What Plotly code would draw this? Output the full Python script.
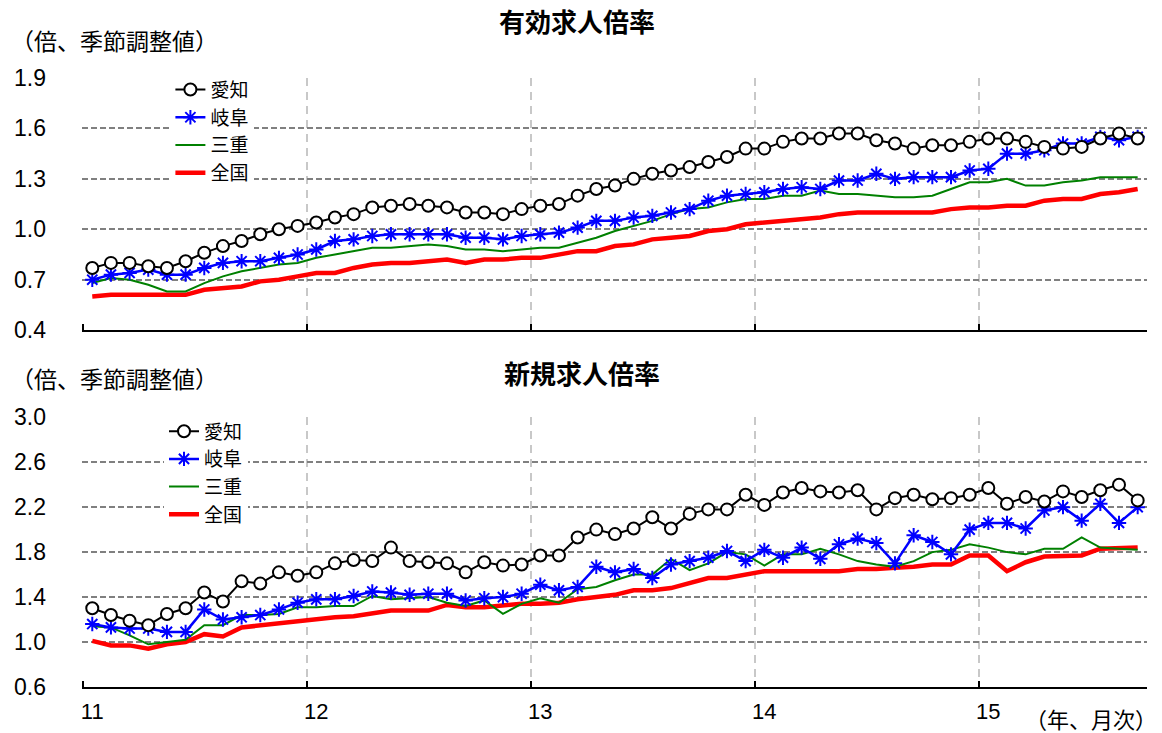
import plotly.graph_objects as go

# Months: Jan 2011 .. Sep 2015 (57 monthly points)
month_index = list(range(57))
year_tick_pos = [0, 12, 24, 36, 48]
year_tick_text = ["11", "12", "13", "14", "15"]
year_boundaries = [-0.5, 11.5, 23.5, 35.5, 47.5]

series_names = ["愛知", "岐阜", "三重", "全国"]

# 有効求人倍率 (top panel)
yuko_aichi = [0.77, 0.80, 0.80, 0.78, 0.77, 0.81, 0.86, 0.90, 0.93, 0.97, 1.00, 1.02,
              1.04, 1.07, 1.09, 1.13, 1.14, 1.15, 1.14, 1.13, 1.10, 1.10, 1.09, 1.12,
              1.14, 1.15, 1.20, 1.24, 1.26, 1.30, 1.33, 1.35, 1.37, 1.40, 1.43, 1.48,
              1.48, 1.52, 1.54, 1.54, 1.57, 1.57, 1.53, 1.51, 1.48, 1.50, 1.50, 1.52,
              1.54, 1.54, 1.52, 1.49, 1.48, 1.49, 1.54, 1.57, 1.54]
yuko_gifu = [0.70, 0.73, 0.74, 0.76, 0.73, 0.73, 0.77, 0.80, 0.81, 0.81, 0.83, 0.85,
             0.88, 0.93, 0.94, 0.96, 0.97, 0.97, 0.97, 0.97, 0.95, 0.95, 0.94, 0.96,
             0.97, 0.98, 1.01, 1.05, 1.05, 1.07, 1.08, 1.10, 1.12, 1.17, 1.20, 1.21,
             1.22, 1.24, 1.25, 1.24, 1.29, 1.29, 1.33, 1.30, 1.31, 1.31, 1.31, 1.35,
             1.36, 1.45, 1.45, 1.47, 1.51, 1.51, 1.55, 1.53, 1.55]
yuko_mie = [0.68, 0.71, 0.70, 0.67, 0.63, 0.63, 0.68, 0.72, 0.75, 0.77, 0.79, 0.80,
            0.83, 0.85, 0.87, 0.89, 0.89, 0.90, 0.91, 0.90, 0.88, 0.88, 0.87, 0.88,
            0.89, 0.89, 0.92, 0.95, 0.99, 1.02, 1.05, 1.09, 1.12, 1.13, 1.16, 1.18,
            1.18, 1.20, 1.20, 1.23, 1.21, 1.21, 1.20, 1.19, 1.19, 1.20, 1.24, 1.28,
            1.28, 1.30, 1.26, 1.26, 1.28, 1.29, 1.31, 1.31, 1.31]
yuko_zenkoku = [0.60, 0.61, 0.61, 0.61, 0.61, 0.61, 0.64, 0.65, 0.66, 0.69, 0.70, 0.72,
                0.74, 0.74, 0.77, 0.79, 0.80, 0.80, 0.81, 0.82, 0.80, 0.82, 0.82, 0.83,
                0.83, 0.85, 0.87, 0.87, 0.90, 0.91, 0.94, 0.95, 0.96, 0.99, 1.00, 1.03,
                1.04, 1.05, 1.06, 1.07, 1.09, 1.10, 1.10, 1.10, 1.10, 1.10, 1.12, 1.13,
                1.13, 1.14, 1.14, 1.17, 1.18, 1.18, 1.21, 1.22, 1.24]

# 新規求人倍率 (bottom panel)
shinki_aichi = [1.30, 1.24, 1.19, 1.15, 1.25, 1.30, 1.44, 1.36, 1.54, 1.52, 1.62, 1.59,
                1.62, 1.70, 1.73, 1.72, 1.84, 1.72, 1.71, 1.70, 1.62, 1.71, 1.68, 1.69,
                1.77, 1.77, 1.93, 2.00, 1.96, 2.01, 2.11, 2.01, 2.14, 2.18, 2.18, 2.31,
                2.22, 2.33, 2.37, 2.34, 2.33, 2.35, 2.18, 2.28, 2.31, 2.27, 2.28, 2.31,
                2.37, 2.23, 2.29, 2.25, 2.34, 2.29, 2.35, 2.40, 2.26]
shinki_gifu = [1.16, 1.13, 1.12, 1.12, 1.09, 1.09, 1.29, 1.20, 1.22, 1.24, 1.29, 1.35,
               1.38, 1.38, 1.41, 1.45, 1.44, 1.42, 1.43, 1.43, 1.37, 1.39, 1.40, 1.43,
               1.51, 1.46, 1.49, 1.67, 1.62, 1.65, 1.57, 1.69, 1.72, 1.75, 1.81, 1.72,
               1.82, 1.75, 1.84, 1.74, 1.87, 1.92, 1.88, 1.70, 1.95, 1.89, 1.78, 2.00,
               2.06, 2.06, 2.01, 2.17, 2.20, 2.08, 2.23, 2.06, 2.20]
shinki_mie = [1.14, 1.13, 1.06, 0.98, 1.00, 1.02, 1.15, 1.15, 1.24, 1.24, 1.25, 1.31,
              1.31, 1.32, 1.32, 1.41, 1.38, 1.39, 1.40, 1.35, 1.32, 1.37, 1.25, 1.34,
              1.39, 1.35, 1.47, 1.49, 1.55, 1.60, 1.60, 1.74, 1.64, 1.70, 1.80, 1.78,
              1.68, 1.78, 1.78, 1.83, 1.78, 1.72, 1.69, 1.67, 1.72, 1.80, 1.82, 1.87,
              1.84, 1.80, 1.78, 1.83, 1.83, 1.93, 1.84, 1.83, 1.82]
shinki_zenkoku = [1.01, 0.97, 0.97, 0.94, 0.98, 1.00, 1.07, 1.05, 1.13, 1.15, 1.17, 1.19,
                  1.20, 1.22, 1.23, 1.25, 1.28, 1.28, 1.28, 1.33, 1.31, 1.31, 1.32, 1.34,
                  1.34, 1.35, 1.38, 1.40, 1.42, 1.46, 1.46, 1.48, 1.52, 1.57, 1.57, 1.60,
                  1.63, 1.63, 1.63, 1.63, 1.63, 1.65, 1.65, 1.66, 1.67, 1.69, 1.69, 1.77,
                  1.77, 1.63, 1.71, 1.76, 1.76, 1.77, 1.83, 1.84, 1.84]

top_ticks = [0.4, 0.7, 1.0, 1.3, 1.6, 1.9]
bottom_ticks = [0.6, 1.0, 1.4, 1.8, 2.2, 2.6, 3.0]

NUM_FONT = "Arial, 'Liberation Sans', 'Noto Sans CJK JP', sans-serif"
JP_FONT = "'Noto Sans CJK JP', 'Noto Sans', sans-serif"

styles = [
    dict(mode="lines+markers", line=dict(color="#000000", width=2),
         marker=dict(symbol="circle", size=12, color="#FFFFFF",
                     line=dict(color="#000000", width=2))),
    dict(mode="lines+markers", line=dict(color="#0000FF", width=2.5),
         marker=dict(symbol="asterisk-open", size=12, color="#0000FF",
                     line=dict(color="#0000FF", width=2))),
    dict(mode="lines", line=dict(color="#008000", width=2)),
    dict(mode="lines", line=dict(color="#FF0000", width=4.5)),
]

fig = go.Figure()

top_series = [yuko_aichi, yuko_gifu, yuko_mie, yuko_zenkoku]
bottom_series = [shinki_aichi, shinki_gifu, shinki_mie, shinki_zenkoku]

# draw order: national underneath
for i in [3, 2, 1, 0]:
    fig.add_trace(go.Scatter(x=month_index, y=top_series[i], name=series_names[i],
                             xaxis="x", yaxis="y", legend="legend",
                             legendrank=i + 1, **styles[i]))
for i in [3, 2, 1, 0]:
    fig.add_trace(go.Scatter(x=month_index, y=bottom_series[i], name=series_names[i],
                             xaxis="x2", yaxis="y2", legend="legend2",
                             legendrank=i + 1, **styles[i]))

xcommon = dict(
    range=[-0.55, 56.5], showline=True, linecolor="#000000", linewidth=2,
    tickmode="array", tickvals=year_tick_pos, ticktext=year_tick_text,
    ticks="", showgrid=False, zeroline=False,
    minor=dict(tickmode="array", tickvals=year_boundaries, showgrid=True,
               gridcolor="#C8C8C8", griddash="8px,6px", gridwidth=2,
               ticks="inside", ticklen=6, tickcolor="#000000", tickwidth=2),
    tickfont=dict(family=NUM_FONT, size=22, color="#000000"),
)
ycommon = dict(
    showgrid=True, gridcolor="#808080", griddash="6px,3px", gridwidth=1.5,
    zeroline=False, showline=False, ticks="",
    tickfont=dict(family=NUM_FONT, size=23, color="#000000"),
    ticklabelstandoff=35,
)

fig.update_layout(
    width=1162, height=733,
    margin=dict(l=82, r=15, t=78, b=46, autoexpand=False),
    paper_bgcolor="#FFFFFF", plot_bgcolor="#FFFFFF",
    font=dict(family=JP_FONT, color="#000000"),
    xaxis=dict(domain=[0, 1], anchor="y", showticklabels=False, **xcommon),
    yaxis=dict(domain=[0.586, 1.0], anchor="x", range=[0.4, 1.9],
               tickvals=top_ticks, ticktext=[f"{v:.1f}" for v in top_ticks], **ycommon),
    xaxis2=dict(domain=[0, 1], anchor="y2", matches="x", showticklabels=True,
                ticklabelstandoff=4, **xcommon),
    yaxis2=dict(domain=[0.0, 0.443], anchor="x2", range=[0.6, 3.0],
                tickvals=bottom_ticks, ticktext=[f"{v:.1f}" for v in bottom_ticks], **ycommon),
    legend=dict(x=0.083, y=1.012, xanchor="left", yanchor="top",
                bgcolor="#FFFFFF", borderwidth=0, tracegroupgap=0,
                font=dict(family=JP_FONT, size=19, color="#000000")),
    legend2=dict(x=0.077, y=0.451, xanchor="left", yanchor="top",
                 bgcolor="#FFFFFF", borderwidth=0, tracegroupgap=0,
                 font=dict(family=JP_FONT, size=19, color="#000000")),
    showlegend=True,
)

annotations = [
    dict(text="<b>有効求人倍率</b>", x=0.4648, y=1.0952, font=dict(size=26),
         xanchor="center", yanchor="middle"),
    dict(text="<b>新規求人倍率</b>", x=0.4695, y=0.5172, font=dict(size=26),
         xanchor="center", yanchor="middle"),
    dict(text="（倍、季節調整値）", x=-0.0690, y=1.0624, font=dict(size=23),
         xanchor="left", yanchor="middle"),
    dict(text="（倍、季節調整値）", x=-0.0690, y=0.5074, font=dict(size=23),
         xanchor="left", yanchor="middle"),
    dict(text="（年、月次）", x=1.0113, y=-0.0509, font=dict(size=22),
         xanchor="right", yanchor="middle"),
]
for a in annotations:
    a.update(xref="paper", yref="paper", showarrow=False)
    a["font"].update(family=JP_FONT, color="#000000")
fig.update_layout(annotations=annotations)

# remove the default 8px page margin so the figure fills the window exactly
fig.write_html("out.html",
               config={"displayModeBar": False},
               post_script="document.body.style.margin='0';document.body.style.overflow='hidden';")
